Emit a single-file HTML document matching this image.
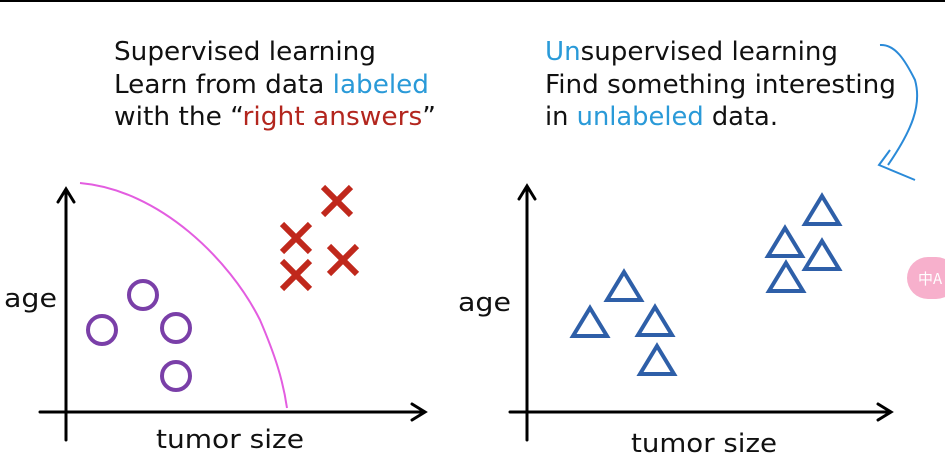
<!DOCTYPE html>
<html><head><style>
html,body{margin:0;padding:0;background:#fff;width:945px;height:457px;overflow:hidden}
</style></head><body>
<svg width="945" height="457" viewBox="0 0 945 457" xmlns="http://www.w3.org/2000/svg" font-family="DejaVu Sans, Liberation Sans, sans-serif">
<rect x="0" y="0" width="945" height="2" fill="#000"/>
<g font-size="26" fill="#111">
<text x="114" y="60" textLength="262" lengthAdjust="spacingAndGlyphs">Supervised learning</text>
<text x="114" y="93" textLength="315" lengthAdjust="spacingAndGlyphs">Learn from data <tspan fill="#2a9ad8">labeled</tspan></text>
<text x="114" y="125" textLength="322" lengthAdjust="spacingAndGlyphs">with the “<tspan fill="#b3261e">right answers</tspan>”</text>
<text x="545" y="60" textLength="293" lengthAdjust="spacingAndGlyphs"><tspan fill="#2a9ad8">Un</tspan>supervised learning</text>
<text x="545" y="93" textLength="351" lengthAdjust="spacingAndGlyphs">Find something interesting</text>
<text x="545" y="125" textLength="233" lengthAdjust="spacingAndGlyphs">in <tspan fill="#2a9ad8">unlabeled</tspan> data.</text>
<text x="4" y="307" textLength="53" lengthAdjust="spacingAndGlyphs">age</text>
<text x="156" y="448" textLength="148" lengthAdjust="spacingAndGlyphs">tumor size</text>
<text x="458" y="311" textLength="53" lengthAdjust="spacingAndGlyphs">age</text>
<text x="631" y="452" textLength="146" lengthAdjust="spacingAndGlyphs">tumor size</text>
</g>
<path d="M880 45 C895 44 905 60 915 80 C922 105 912 130 888 165 M890 150 L879 165 L915 180" fill="none" stroke="#2a8ad8" stroke-width="2"/>
<g stroke="#000" stroke-width="3" fill="none" stroke-linecap="round">
<path d="M66 440 V190 M58 202 L66 189 L74 202"/>
<path d="M40 412 H424 M412 404 L425 412 L412 420"/>
<path d="M527 440 V187 M519 199 L527 186 L535 199"/>
<path d="M510 412 H890 M878 404 L891 412 L878 420"/>
</g>
<path d="M80 183 C160 190 230 260 260 320 C275 355 283 380 287 408" fill="none" stroke="#e35de0" stroke-width="2"/>
<g stroke="#7a3fa8" stroke-width="4" fill="none">
<circle cx="143" cy="295" r="14"/><circle cx="102" cy="330" r="14"/>
<circle cx="176" cy="328" r="14"/><circle cx="176" cy="376" r="14"/>
</g>
<g stroke="#c0281c" stroke-width="6" fill="none">
<path d="M323 187 L351 215 M351 187 L323 215"/>
<path d="M282 224 L310 252 M310 224 L282 252"/>
<path d="M329 246 L357 274 M357 246 L329 274"/>
<path d="M282 261 L310 289 M310 261 L282 289"/>
</g>
<g stroke="#2e5fa8" stroke-width="4" fill="none" stroke-linejoin="miter">
<path d="M624 272 L641 300 L607 300 Z"/>
<path d="M590 308 L607 336 L573 336 Z"/>
<path d="M655 307 L672 335 L638 335 Z"/>
<path d="M657 346 L674 374 L640 374 Z"/>
<path d="M822 196 L839 224 L805 224 Z"/>
<path d="M785 228 L802 256 L768 256 Z"/>
<path d="M822 241 L839 269 L805 269 Z"/>
<path d="M786 263 L803 291 L769 291 Z"/>
</g>
<rect x="907" y="257" width="50" height="42" rx="21" fill="#f7b0cc"/>
<text x="918" y="284" font-size="15" fill="#fff" font-family="Noto Sans CJK SC, sans-serif">中A</text>
</svg>
</body></html>
